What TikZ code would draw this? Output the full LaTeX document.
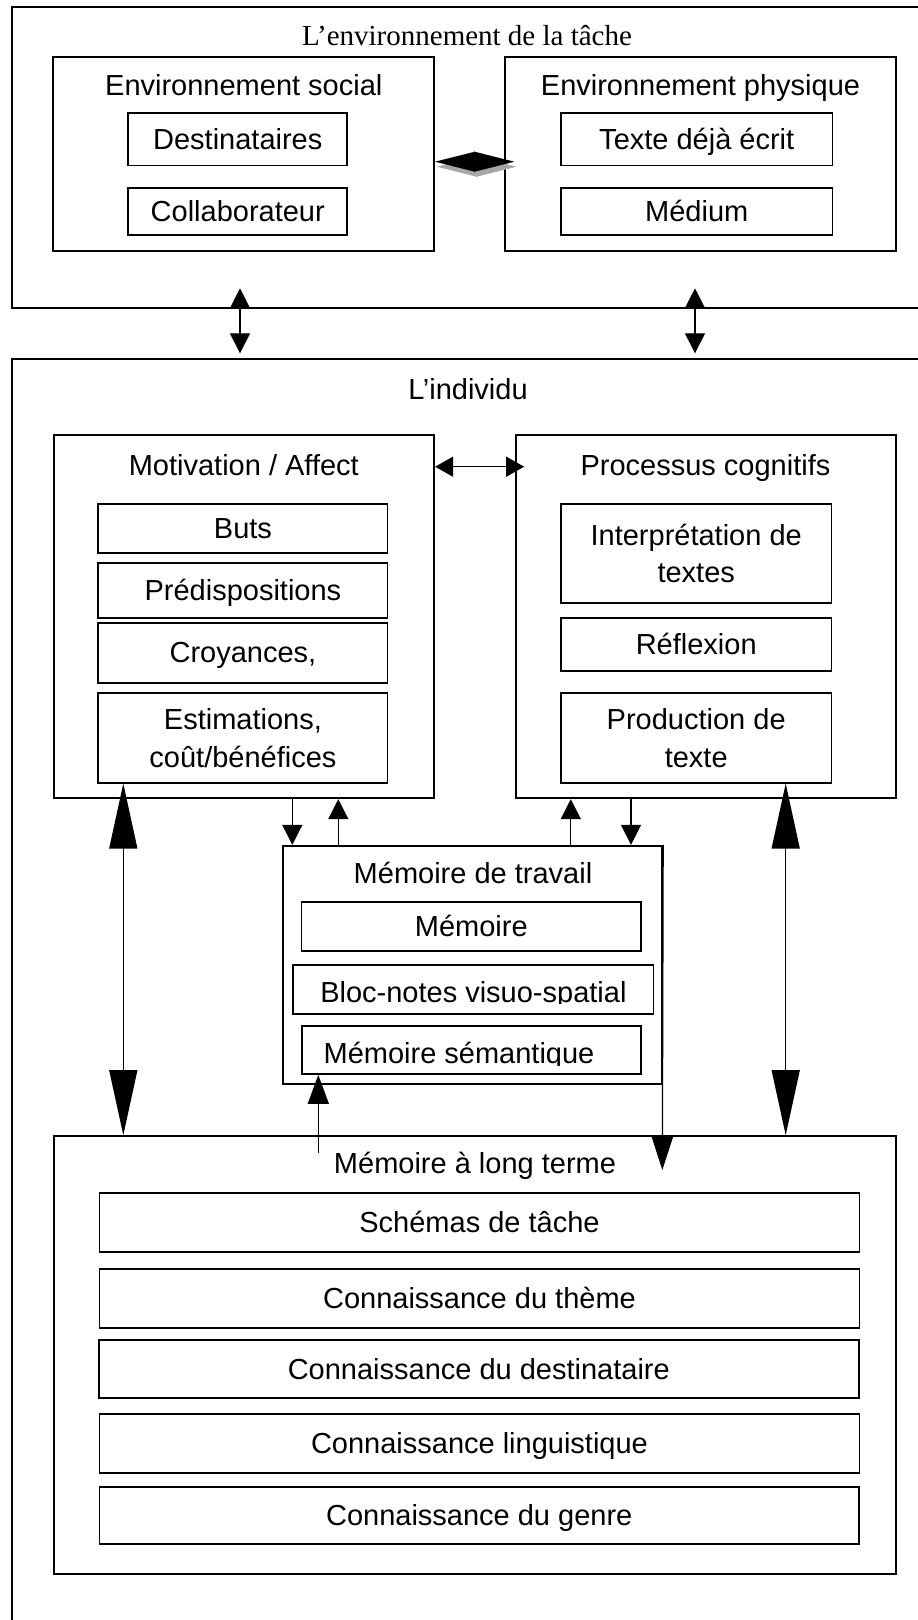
\documentclass[tikz,border=0pt]{standalone}
\usepackage{fontspec}
\setmainfont{Liberation Sans}
\newfontfamily\titleserif{Liberation Serif}
\usetikzlibrary{arrows.meta,calc}

\begin{document}
\begin{tikzpicture}[x=1pt,y=-1pt,
  font=\fontsize{29pt}{37.5pt}\selectfont,
  frame/.style={draw,line width=1.7pt,inner sep=0pt},
  cell/.style={draw,line width=1.7pt,inner sep=0pt,text height=20pt,text depth=0pt},
  cellii/.style={draw,line width=1.7pt,inner sep=0pt,align=center},
  title/.style={anchor=base,inner sep=0pt},
  link/.style={line width=1.3pt},
  headS/.style={-{Triangle[length=20pt,width=20pt]}},
  dualS/.style={{Triangle[length=20pt,width=20pt]}-{Triangle[length=20pt,width=20pt]}},
  dualM/.style={{Triangle[length=18pt,width=20pt]}-{Triangle[length=18pt,width=20pt]}},
  dualL/.style={{Triangle[length=65pt,width=28pt]}-{Triangle[length=65pt,width=28pt]}},
  joint/.style={line width=0.4pt,{Triangle[length=40pt,width=20pt]}-{Triangle[length=40pt,width=20pt]}}
]
\useasboundingbox (0,0) rectangle (918,1620);
\fill[white] (0,0) rectangle (918,1620);
\clip (0,0) rectangle (918,1620);

% ---------- task environment ----------
\node[frame,minimum width=913.3pt,minimum height=301pt] (envtache) at (468.35,157.2) {};
\node[title,font=\titleserif\fontsize{29pt}{35pt}\selectfont] (envtitle) at (467,45.5) {L’environnement de la tâche};

\node[frame,minimum width=381pt,minimum height=193.7pt] (social) at (243.8,154.15) {};
\node[title] (socialtitle) at (243.8,95) {Environnement social};
\node[cell,minimum width=218.9pt,minimum height=52.2pt] (dest) at (237.75,139.4) {Destinataires};
\node[cell,minimum width=218.9pt,minimum height=47pt] (collab) at (237.75,211.5) {Collaborateur};

\node[frame,minimum width=391pt,minimum height=193.7pt] (physical) at (700.5,154.15) {};
\node[title] (phystitle) at (700.5,95) {Environnement physique};
\node[cell,minimum width=271.5pt,minimum height=52.2pt] (texte) at (696.75,139.4) {Texte déjà écrit};
\node[cell,minimum width=271.5pt,minimum height=47pt] (medium) at (696.75,211.5) {Médium};

% social <-> physical joint, with its grey shadow
\coordinate (dy) at (0,161.7);
\coordinate (dys) at (0,166.7);
\draw[joint,gray!70,fill=gray!70] ([xshift=2pt]social.east |- dys) -- ([xshift=12pt]physical.west |- dys);
\draw[joint,fill=black] (social.east |- dy) -- ([xshift=10pt]physical.west |- dy);

% ---------- the individual ----------
\node[frame,minimum width=913.3pt,minimum height=1270.7pt] (individu) at (468.35,994.65) {};
\node[title] (indivtitle) at (468,399) {L’individu};

% links between environment and individual
\coordinate (eA) at (240,288.3);
\coordinate (iA) at (240,353.3);
\coordinate (eB) at (695,288.3);
\coordinate (iB) at (695,353.3);
\draw[link,dualS] (eA) -- (iA);
\draw[link,dualS] (eB) -- (iB);

% motivation / affect
\node[frame,minimum width=380.6pt,minimum height=363.3pt] (motiv) at (244,616.65) {};
\node[title] (motivtitle) at (243.8,475) {Motivation / Affect};
\node[cell,minimum width=289.3pt,minimum height=48.4pt] (buts) at (242.95,528.5) {Buts};
\node[cell,minimum width=289.3pt,minimum height=54.7pt] (predisp) at (242.95,590.65) {Prédispositions};
\node[cell,minimum width=289.3pt,minimum height=59.7pt] (croy) at (242.95,652.85) {Croyances,};
\node[cellii,minimum width=289.3pt,minimum height=89.4pt] (estim) at (242.95,738) {Estimations,\\coût/bénéfices};

% cognitive processes
\node[frame,minimum width=380.1pt,minimum height=363.3pt] (proc) at (705.75,616.65) {};
\node[title] (proctitle) at (705.5,475) {Processus cognitifs};
\node[cellii,minimum width=270.4pt,minimum height=98.4pt] (interp) at (696.2,553.5) {Interprétation de\\textes};
\node[cell,minimum width=270.4pt,minimum height=52.7pt] (reflex) at (696.2,644.35) {Réflexion};
\node[cellii,minimum width=270.4pt,minimum height=89.4pt] (prod) at (696.2,738) {Production de\\texte};

\coordinate (mp) at (0,466.7);
\draw[link,dualM] (motiv.east |- mp) -- ([xshift=9.3pt]proc.west |- mp);

% working memory
\node[frame,minimum width=379pt,minimum height=238.6pt] (wm) at (472.8,965) {};
\node[title] (wmtitle) at (473,883.3) {Mémoire de travail};
\node[cell,minimum width=339.5pt,minimum height=49.3pt] (mem) at (471.25,926.35) {Mémoire};
\node[frame,minimum width=360.7pt,minimum height=49pt] (bloc) at (473.05,989.5) {};
\node[frame,minimum width=339.3pt,minimum height=48.3pt] (sem) at (471.35,1049.85) {};
\begin{scope}
  \clip (292.7,965) rectangle (653.4,1003.5);
  \node[title] (bloctext) at (473.4,1002) {Bloc-notes visuo-spatial};
\end{scope}
\begin{scope}
  \clip (301.7,1025.7) rectangle (641,1065);
  \node[title] (semtext) at (459,1063) {Mémoire sémantique};
\end{scope}

% long-term memory
\node[frame,minimum width=841.8pt,minimum height=438.3pt] (ltm) at (474.8,1355.15) {};
\node[title] (ltmtitle) at (475,1173.3) {Mémoire à long terme};
\node[cell,minimum width=760pt,minimum height=58.4pt] (schemas) at (479.5,1222.5) {Schémas de tâche};
\node[cell,minimum width=760pt,minimum height=58.7pt] (theme) at (479.5,1298.35) {Connaissance du thème};
\node[cell,minimum width=760pt,minimum height=58.3pt] (destin) at (478.8,1369.15) {Connaissance du destinataire};
\node[cell,minimum width=760pt,minimum height=58.4pt] (ling) at (479.5,1443.5) {Connaissance linguistique};
\node[cell,minimum width=759.5pt,minimum height=57.6pt] (genre) at (479.25,1515.5) {Connaissance du genre};

% links with working memory
\coordinate (c1) at (292.3,0);
\coordinate (c2) at (338.3,0);
\coordinate (c3) at (570.8,0);
\coordinate (c4) at (631,0);
\draw[link,headS] (motiv.south -| c1) -- (wm.north -| c1);
\draw[link,headS] (wm.north -| c2) -- (motiv.south -| c2);
\draw[link,headS] (wm.north -| c3) -- (proc.south -| c3);
\draw[link,headS] (proc.south -| c4) -- (wm.north -| c4);

% long-term memory links
\coordinate (b1) at (123.3,0);
\coordinate (b2) at (785.7,0);
\draw[link,dualL] (estim.south -| b1) -- (ltm.north -| b1);
\draw[link,dualL] (prod.south -| b2) -- (ltm.north -| b2);

\coordinate (semfoot) at (318.3,1152.7);
\draw[link,-{Triangle[length=29pt,width=21pt]}] (semfoot) -- (sem.south -| semfoot);
\coordinate (wmfoot) at (662.3,1170);
\draw[link,-{Triangle[length=33pt,width=21pt]}] (wm.north east) -- (wmfoot);
\end{tikzpicture}
\end{document}
